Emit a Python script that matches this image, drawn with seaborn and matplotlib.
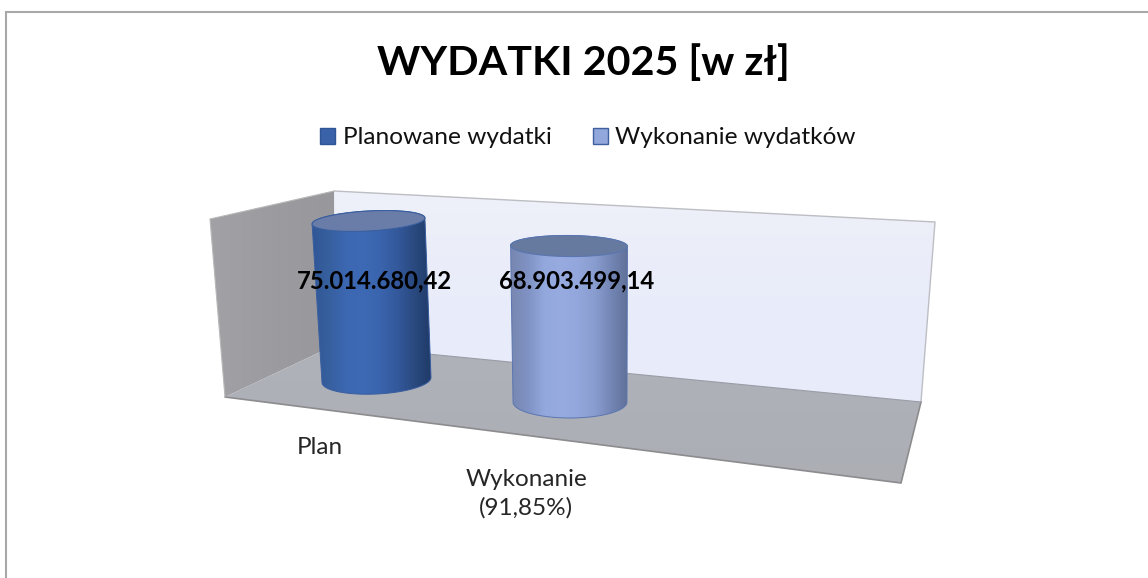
import numpy as np
import pandas as pd
import matplotlib
matplotlib.use("Agg")
import matplotlib.pyplot as plt
from matplotlib.colors import LinearSegmentedColormap
from matplotlib.patches import Patch, PathPatch, Polygon
from matplotlib.path import Path
from matplotlib.transforms import Affine2D
import seaborn as sns

# dane
kategorie = ["Plan", "Wykonanie\n(91,85%)"]
serie = ["Planowane wydatki", "Wykonanie wydatków"]
wydatki = [75014680.42, 68903499.14]
tytul = "WYDATKI 2025 [w zł]"

W, H = 1148, 578

sns.set_style("white")
plt.rcParams["font.family"] = ["Lato", "DejaVu Sans"]

fig = plt.figure(figsize=(W / 100, H / 100), dpi=100)

# warstwa tla w pikselach obrazka
ax_bg = fig.add_axes([0, 0, 1, 1], zorder=0)
ax_bg.set_xlim(0, W)
ax_bg.set_ylim(H, 0)
ax_bg.axis("off")

# ramka wykresu
ax_bg.plot([6, 6, W], [H, 12, 12], color="#a8a8a8", lw=1.5, solid_joinstyle="miter")

# sciany i podloga
tyl = [(334, 191), (935, 222), (921, 402), (335, 345)]
lewa = [(210, 219), (334, 191), (335, 345), (225, 397)]
podloga = [(225, 397), (335, 345), (921, 402), (901, 483)]


def sciana(ax, pts, kolory, kier):
    cm = LinearSegmentedColormap.from_list("s", kolory)
    xs, ys = zip(*pts)
    g = np.linspace(0, 1, 128)
    g = g[None, :] if kier == "x" else g[:, None]
    im = ax.imshow(g, cmap=cm, aspect="auto", zorder=1,
                   extent=(min(xs), max(xs), max(ys), min(ys)))
    p = Polygon(pts, closed=True, fc="none", ec="none", transform=ax.transData)
    ax.add_patch(p)
    im.set_clip_path(p)


sciana(ax_bg, tyl, ["#eef1f8", "#e9ecfa", "#e8ebf9"], "y")
sciana(ax_bg, lewa, ["#a2a2a6", "#9c9ca0", "#98989c"], "x")
sciana(ax_bg, podloga, ["#b0b2ba", "#aeb0b8", "#acaeb4"], "y")
ax_bg.plot(*zip(*[tyl[0], tyl[1], tyl[2]]), color="#bcbec3", lw=1, zorder=2)
ax_bg.plot(*zip(*[(225, 397), (901, 483), (921, 402)]), color="#8c8c8f", lw=1.2, zorder=2)
ax_bg.plot(*zip(*[(335, 345), (921, 402)]), color="#9a9ca6", lw=0.8, zorder=2)
ax_bg.plot(*zip(*[(225, 397), (210, 219), (334, 191)]), color="#b8b8b8", lw=0.8, zorder=2)
ax_bg.set_xlim(0, W)
ax_bg.set_ylim(H, 0)

# slupki, os w zlotowkach
baza_px = 380
gora_px = 150
lewo_px, prawo_px = 210, 935
x0_px, krok_px = 376.5, 193.5
px_na_zl = 159 / wydatki[0]

ax = fig.add_axes([lewo_px / W, 1 - baza_px / H, (prawo_px - lewo_px) / W, (baza_px - gora_px) / H], zorder=1)
df = pd.DataFrame({"kategoria": kategorie, "wydatki": wydatki, "seria": serie})
sns.barplot(data=df, x="kategoria", y="wydatki", hue="seria", palette=["#3a62a8", "#92a7db"],
            dodge=False, legend=False, width=109 / krok_px, ax=ax)
ax.set_xlim((lewo_px - x0_px) / krok_px, (prawo_px - x0_px) / krok_px)
ax.set_ylim(0, (baza_px - gora_px) / px_na_zl)
ax.axis("off")
ax.patch.set_alpha(0)

# warstwa cylindrow
ax_fg = fig.add_axes([0, 0, 1, 1], zorder=2)
ax_fg.patch.set_alpha(0)
ax_fg.axis("off")

# perspektywa: drugi slupek blizej, nizej i wiekszy
skala_x = [1.0, 1.045]
skala_y = [1.0, 1.068]
przes_y = [0, 22]
przes_gora = [-8, -1]
szer_gora = [1.035, 1.026]
elipsa_gora = [10, 10.5]
elipsa_dol = [14, 16]
pochyl_gora = [-6, 1]
pochyl_dol = [-5, 0]
gradienty = [
    ["#305696", "#37609f", "#3c67b1", "#3d69b5", "#3a64ad", "#34599c", "#2a4a80", "#203b68"],
    ["#7787b0", "#8092c4", "#93a8dc", "#97abe0", "#93a7dc", "#8a9dd0", "#7486b5", "#5f7098"],
]
kolor_wieko = ["#6a7da8", "#66799f"]
kolor_brzeg = ["#3a5f9f", "#5a76b0"]


def krzywa(cx, cy, a, b, pochyl, t):
    return np.column_stack([cx + a * np.cos(t),
                            cy + b * np.sin(t) + pochyl * np.cos(t) / 2])


for i, bar in enumerate(ax.patches):
    cx = x0_px + i * krok_px
    by = H - baza_px
    tr = Affine2D().translate(-cx, -by).scale(skala_x[i], skala_y[i]).translate(cx, by - przes_y[i])
    bar.set_transform(ax.transData + tr)
    box = bar.get_path().get_extents(bar.get_transform())

    xl, xr = box.x0, box.x1
    y_dol, y_gora = H - box.y0, H - box.y1
    a_d = (xr - xl) / 2
    a_g = a_d * szer_gora[i]
    cx_d = (xl + xr) / 2
    cx_g = cx_d + przes_gora[i]

    dol = krzywa(cx_d, y_dol, a_d, elipsa_dol[i], pochyl_dol[i], np.linspace(np.pi, 0, 60))
    wieko_tyl = krzywa(cx_g, y_gora, a_g, elipsa_gora[i], pochyl_gora[i], np.linspace(0, -np.pi, 60))
    obrys = Path(np.vstack([dol, wieko_tyl, dol[:1]]), closed=True)
    bar.set_clip_path(obrys, ax_fg.transData)

    cm = LinearSegmentedColormap.from_list("c%d" % i, gradienty[i])
    im = ax_fg.imshow(np.linspace(0, 1, 256)[None, :], cmap=cm, aspect="auto", zorder=3,
                      extent=(cx_g - a_g, max(cx_d + a_d, cx_g + a_g), y_dol + 20, y_gora - 14))
    im.set_clip_path(obrys, transform=ax_fg.transData)
    ax_fg.add_patch(PathPatch(obrys, fc="none", ec=kolor_brzeg[i], lw=0.7, zorder=4))

    wieko = krzywa(cx_g, y_gora, a_g, elipsa_gora[i], pochyl_gora[i], np.linspace(0, 2 * np.pi, 120))
    ax_fg.add_patch(Polygon(wieko, closed=True, fc=kolor_wieko[i], ec=kolor_brzeg[i], lw=0.8, zorder=5))

ax_fg.set_xlim(0, W)
ax_fg.set_ylim(H, 0)


def zl(v):
    return f"{v:,.2f}".replace(",", " ").replace(".", ",").replace(" ", ".")


# etykiety wartosci
etyk_x = [375, 577]
for x, v in zip(etyk_x, wydatki):
    ax_fg.text(x, 281, zl(v), ha="center", va="center", fontsize=17.2, fontweight="bold", color="black", zorder=6)

# etykiety kategorii
ax_fg.text(319.5, 447, kategorie[0], ha="center", va="center", fontsize=17.5, color="#262626", zorder=6)
ax_fg.text(526, 494, kategorie[1], ha="center", va="center", fontsize=17.5, color="#262626", zorder=6,
           linespacing=1.4)

ax_fg.text(583, 75, tytul, ha="center", va="baseline", fontsize=29.7, fontweight="bold", color="black", zorder=6)

# legenda
uchwyty = [Patch(fc="#3a62a8", ec="#2f5597", lw=1), Patch(fc="#92a7db", ec="#3f5f9f", lw=1)]
fig.legend(uchwyty, serie, loc="center", bbox_to_anchor=(588 / W, 1 - 138 / H), ncol=2, frameon=False,
           fontsize=17.6, handlelength=0.62, handleheight=0.62, handletextpad=0.3, columnspacing=1.7,
           labelcolor="#111111")

fig.savefig("out.png", dpi=100, facecolor="white")
